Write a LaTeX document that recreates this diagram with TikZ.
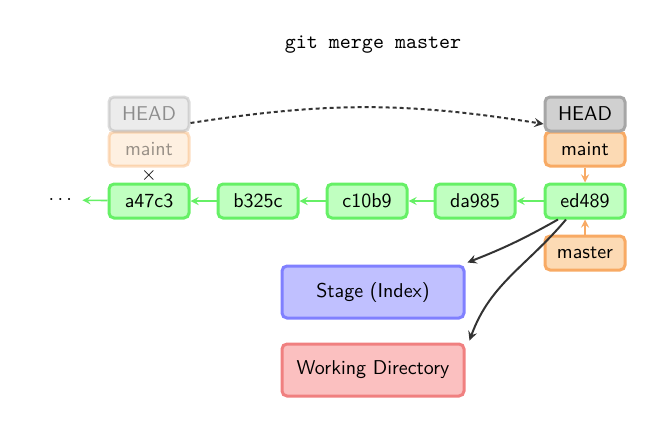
\documentclass[tikz,border=0pt]{standalone}
\usepackage{amsmath,amssymb}
\usepackage{xcolor}
\usepackage{tikz}
\usetikzlibrary{arrows}
\renewcommand{\familydefault}{\sfdefault}
\definecolor{commitfill}{HTML}{C0FFC0}
\definecolor{commitline}{HTML}{66F066}
\definecolor{headfill}{HTML}{D0D0D0}
\definecolor{headline}{HTML}{A6A6A6}
\definecolor{branchfill}{HTML}{FCDAB4}
\definecolor{branchline}{HTML}{F8AA64}
\definecolor{stagefill}{HTML}{C0C0FF}
\definecolor{stageline}{HTML}{8080FF}
\definecolor{wdfill}{HTML}{FBC0C0}
\definecolor{wdline}{HTML}{F08080}
\definecolor{darkarrow}{HTML}{333333}
\tikzset{
	box/.style = {rounded corners=2.5pt, line width=1.5pt, minimum width=40pt, minimum height=17pt, inner sep=0pt},
	commit/.style = {box, fill=commitfill, draw=commitline},
	headbox/.style = {box, fill=headfill, draw=headline},
	branch/.style = {box, fill=branchfill, draw=branchline},
	faded/.style = {opacity=0.4},
	parent/.style = {commitline, line width=0.8pt, -stealth},
	pointer/.style = {branchline, line width=0.8pt, -stealth},
}

\begin{document}
\begin{tikzpicture} [x=0.5pt, y=-0.5pt]
	\useasboundingbox (0,0) rectangle (669,423);
	\node (title) at (373,45) {\fontsize{10.5}{12}\selectfont\texttt{git merge master}};
	% commits
	\node [commit] (a47c3) at (149,201) {a47c3};
	\node [commit] (b325c) at (258,201) {b325c};
	\node [commit] (c10b9) at (367,201) {c10b9};
	\node [commit] (da985) at (475,201) {da985};
	\node [commit] (ed489) at (585,201) {ed489};
	\node (dots) at (62,200) {$\cdots$};
	\draw [parent] (a47c3) -- (dots);
	\draw [parent] (b325c) -- (a47c3);
	\draw [parent] (c10b9) -- (b325c);
	\draw [parent] (da985) -- (c10b9);
	\draw [parent] (ed489) -- (da985);
	% old HEAD
	\node [branch, faded] (oldmaint) at (149,149) {maint};
	\node [headbox, faded] (oldhead) at (149,114) {HEAD};
	\node (cross) at (149,175) {$\times$};
	% new HEAD
	\node [branch] (maint) at (585,149) {maint};
	\node [headbox] (head) at (585,114) {HEAD};
	\node [branch] (master) at (585,253) {master};
	\draw [pointer] (maint) -- (ed489);
	\draw [pointer] (master) -- (ed489);
	\draw [darkarrow, line width=1pt, dash pattern=on 2pt off 1.5pt, -stealth] ([yshift=-4.5pt]oldhead.east) to [bend left=9] ([yshift=-5pt]head.west);
	% stage and working directory
	\node [box, fill=stagefill, draw=stageline, minimum width=91pt, minimum height=26pt] (stage) at (373,292) {Stage (Index)};
	\node [box, fill=wdfill, draw=wdline, minimum width=91pt, minimum height=26pt] (wdir) at (373,370) {Working Directory};
	\draw [darkarrow, line width=1pt, -stealth] ([xshift=-13.5pt]ed489.south) to [bend left=4] ([shift={(1pt,1pt)}]stage.north east);
	\draw [darkarrow, line width=1pt, -stealth] ([xshift=-9.5pt]ed489.south) to [out=-130, in=70] ([shift={(2pt,1pt)}]wdir.north east);
\end{tikzpicture}
\end{document}
